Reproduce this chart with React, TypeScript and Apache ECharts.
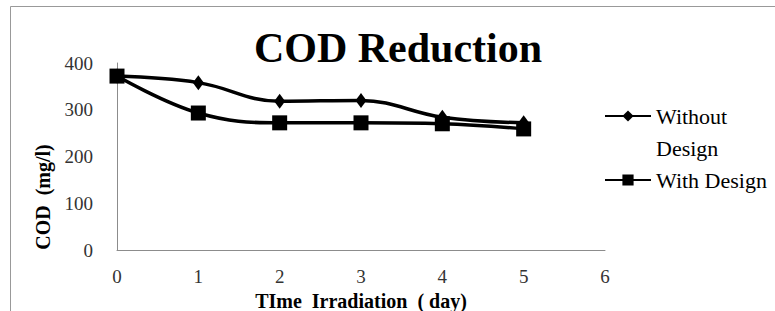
import React, { useEffect, useRef } from "react";
import * as echarts from "echarts";

const days = [0, 1, 2, 3, 4, 5];
const withoutDesign = [372, 358, 318, 320, 284, 272];
const withDesign = [372, 293, 272, 272, 270, 259];
const yTicks = [0, 100, 200, 300, 400];
const xTicks = [0, 1, 2, 3, 4, 5, 6];

const SERIF = "'Liberation Serif', 'Times New Roman', serif";

export default function App() {
  const ref = useRef<HTMLDivElement>(null);
  useEffect(() => {
    if (!ref.current) return;
    const chart = echarts.init(ref.current, undefined, { renderer: "svg" });
    const LH = 32;
    const plain = { fontFamily: SERIF, fontWeight: "normal", fontStyle: "normal" };
    chart.setOption({
      animation: false,
      backgroundColor: "#fff",
      textStyle: plain,
      title: {
        text: "COD Reduction",
        left: 393,
        top: 22,
        textAlign: "center",
        textStyle: { fontFamily: SERIF, fontWeight: "bold", fontSize: 42, color: "#000" },
      },
      grid: { left: 117, right: 170, top: 63, bottom: 61, containLabel: false, outerBoundsMode: "none" },
      legend: {
        orient: "vertical",
        left: 604,
        top: 68,
        padding: 0,
        itemWidth: 46,
        itemHeight: 14,
        itemGap: 0,
        textStyle: { ...plain, fontSize: 22, color: "#000", lineHeight: LH },
        data: ["Without Design", "With Design"],
        formatter: (n: string) => (n === "Without Design" ? "\nWithout\nDesign" : n),
      },
      xAxis: {
        type: "value",
        min: xTicks[0],
        max: xTicks[xTicks.length - 1],
        interval: 1,
        name: "TIme  Irradiation  ( day)",
        nameLocation: "middle",
        nameGap: 34,
        nameTextStyle: { fontFamily: SERIF, fontWeight: "bold", fontSize: 20, color: "#000" },
        axisLine: { show: true, lineStyle: { color: "#8c8c8c", width: 1 } },
        axisTick: { show: false },
        splitLine: { show: false },
        axisLabel: { ...plain, fontSize: 19, color: "#333", margin: 17 },
      },
      yAxis: {
        type: "value",
        min: yTicks[0],
        max: yTicks[yTicks.length - 1],
        interval: 100,
        axisLine: { show: true, lineStyle: { color: "#8c8c8c", width: 1 } },
        axisTick: { show: false },
        splitLine: { show: false },
        axisLabel: { ...plain, fontSize: 19, color: "#333", margin: 24 },
      },
      graphic: [
        {
          type: "polyline",
          shape: { points: [[10.5, 311], [10.5, 6.5], [775, 6.5]] },
          style: { stroke: "#999", lineWidth: 1, fill: "none" },
          silent: true,
        },
        {
          type: "text",
          x: 43,
          y: 197,
          rotation: Math.PI / 2,
          style: {
            text: "COD  (mg/l)",
            font: `bold 20px ${SERIF}`,
            fill: "#000",
            align: "center",
            verticalAlign: "middle",
          },
        },
      ],
      series: [
        {
          name: "Without Design",
          type: "line",
          smooth: 0.4,
          data: days.map((d, i) => [d, withoutDesign[i]]),
          symbol: "diamond",
          symbolSize: [11, 15],
          lineStyle: { color: "#000", width: 3.5 },
          itemStyle: { color: "#000" },
        },
        {
          name: "With Design",
          type: "line",
          smooth: 0.4,
          data: days.map((d, i) => [d, withDesign[i]]),
          symbol: "rect",
          symbolSize: 15,
          lineStyle: { color: "#000", width: 3.5 },
          itemStyle: { color: "#000" },
        },
      ],
    });
    return () => chart.dispose();
  }, []);
  return (
    <div
      ref={ref}
      style={{ position: "absolute", left: 0, top: 0, width: 775, height: 311 }}
    />
  );
}
